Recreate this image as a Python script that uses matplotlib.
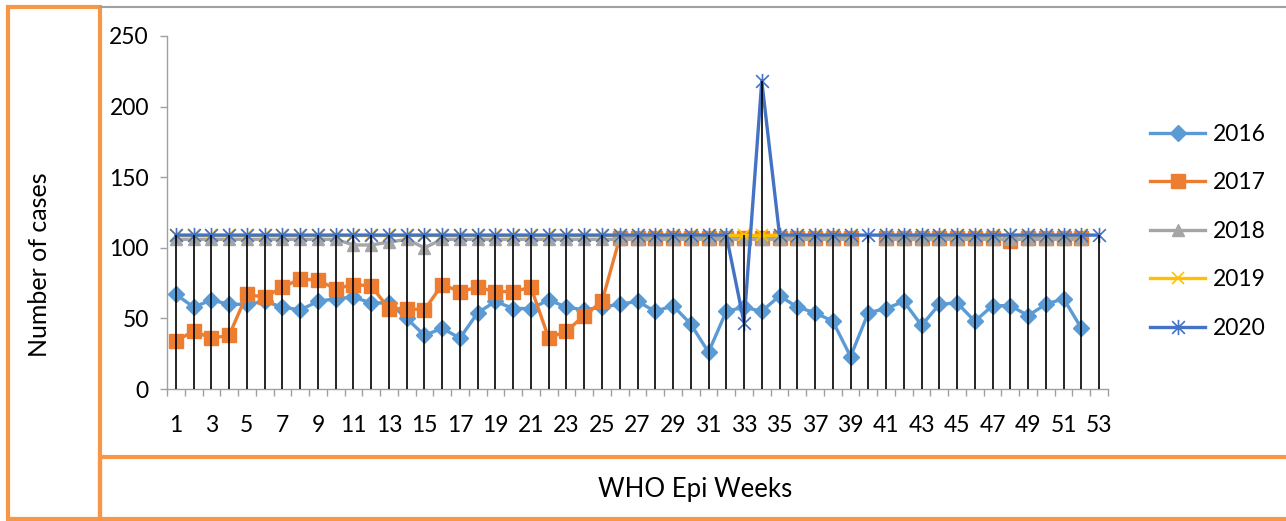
import numpy as np
import matplotlib
matplotlib.use("Agg")
import matplotlib.pyplot as plt
from matplotlib.path import Path
from matplotlib.patches import Rectangle
from matplotlib.lines import Line2D
from matplotlib.ticker import FixedLocator

plt.rcParams['font.family'] = ['Lato', 'DejaVu Sans']

nan = np.nan
weeks = list(range(1, 54))

s2016 = [67, 58, 63, 60, 60, 62, 58, 56, 62, 64, 65, 61, 61, 50, 38, 43, 36, 54, 62, 57,
         57, 63, 58, 56, 58, 60, 62, 55, 59, 46, 26, 55, 58, 55, 66, 58, 54, 48, 23, 54,
         57, 62, 45, 60, 61, 48, 59, 59, 52, 60, 64, 43, nan]
s2017 = [34, 41, 36, 38, 67, 65, 72, 78, 77, 71, 74, 73, 57, 57, 56, 74, 69, 72, 69, 69,
         72, 36, 41, 52, 62, 107, 107, 107, 107, 107, 107, 107, 107, 107, 107, 107, 107, 107, 107, nan,
         107, 107, 107, 107, 107, 107, 107, 105, 107, 107, 107, 107, nan]
s2018 = [106, 106, 106, 106, 106, 106, 106, 106, 106, 106, 102, 102, 104, 106, 100, 106, 106, 106, 106, 106,
         106, 106, 106, 106, 106, 106, 106, 106, 106, 106, 106, 106, 106, 106, 106, 106, 106, 106, 106, nan,
         106, 106, 106, 106, 106, 106, 106, 106, 106, 106, 106, 106, nan]
s2019 = [109] * 39 + [nan] + [109] * 12 + [nan]
s2020 = [109] * 32 + [47, 218] + [109] * 19

series_names = ['2016', '2017', '2018', '2019', '2020']
series_vals = [s2016, s2017, s2018, s2019, s2020]
colors = ['#5B9BD5', '#ED7D31', '#A5A5A5', '#FFC000', '#4472C4']

y_ticks = [0, 50, 100, 150, 200, 250]
x_tick_labels = [str(w) for w in weeks if w % 2 == 1]

W, H = 1286, 521
fig = plt.figure(figsize=(W / 100, H / 100), dpi=100)
ax = fig.add_axes([167 / W, 1 - 389 / H, (1108 - 167) / W, (389 - 36) / H])

star = Path([(-1, -1), (1, 1), (-1, 1), (1, -1), (0, -1.2), (0, 1.2)],
            [Path.MOVETO, Path.LINETO, Path.MOVETO, Path.LINETO, Path.MOVETO, Path.LINETO])
markers = ['D', 's', '^', 'x', star]
msizes = [8, 9.5, 9, 9, 11]

handles = []
for name, vals, c, m, ms in zip(series_names, series_vals, colors, markers, msizes):
    v = np.array(vals, dtype=float)
    if m in ('x',) or m is star:
        ln, = ax.plot(weeks, v, color=c, lw=2.4, marker=m, ms=ms, mew=1.2,
                      mec=c, mfc='none', zorder=3)
    else:
        ln, = ax.plot(weeks, v, color=c, lw=2.4, marker=m, ms=ms, mec=c, mfc=c, zorder=3)
    handles.append(ln)

arr = np.array(series_vals, dtype=float)
tops = np.nanmax(arr, axis=0)
ax.vlines(weeks, 0, tops, colors='black', lw=1.2, zorder=4)

ax.set_xlim(0.5, 53.5)
ax.set_ylim(0, 250)
ax.set_yticks(y_ticks)
ax.set_yticklabels([str(t) for t in y_ticks], fontsize=16.5)
ax.xaxis.set_major_locator(FixedLocator([w for w in weeks if w % 2 == 1]))
ax.set_xticklabels(x_tick_labels, fontsize=16.5)
ax.xaxis.set_minor_locator(FixedLocator(np.arange(0.5, 54, 1.0)))
ax.tick_params(axis='x', which='major', length=0, pad=19)
ax.tick_params(axis='x', which='minor', length=5, color='#A0A0A0', width=1, direction='out')
ax.tick_params(axis='y', which='major', length=5, color='#A0A0A0', width=1, pad=8)
for side in ('top', 'right'):
    ax.spines[side].set_visible(False)
for side in ('left', 'bottom'):
    ax.spines[side].set_color('#A0A0A0')
    ax.spines[side].set_linewidth(1)

leg = fig.legend(handles, series_names, loc='upper left',
                 bbox_to_anchor=(1150 / W, 1 - 124 / H), frameon=False, fontsize=16.5,
                 handlelength=2.4, handletextpad=0.35, labelspacing=1.2, borderpad=0,
                 borderaxespad=0)

# borders
orange = '#F79646'
fig.add_artist(Line2D([100 / W, 1.0], [1 - 7 / H, 1 - 7 / H], color='#A0A0A0', lw=1.5,
                      transform=fig.transFigure))
fig.add_artist(Rectangle((8 / W, 1 - 519 / H), (100 - 8) / W, (519 - 7) / H, fill=False,
                         ec=orange, lw=3, transform=fig.transFigure))
fig.add_artist(Rectangle((100 / W, 1 - 519 / H), (1300 - 100) / W, (519 - 457) / H, fill=False,
                         ec=orange, lw=3, transform=fig.transFigure))

fig.text(40 / W, 1 - 265 / H, 'Number of cases', rotation=90, ha='center', va='center',
         fontsize=18)
fig.text(695 / W, 1 - 489 / H, 'WHO Epi Weeks', ha='center', va='center', fontsize=18.5)

fig.savefig('out.png', dpi=100)
